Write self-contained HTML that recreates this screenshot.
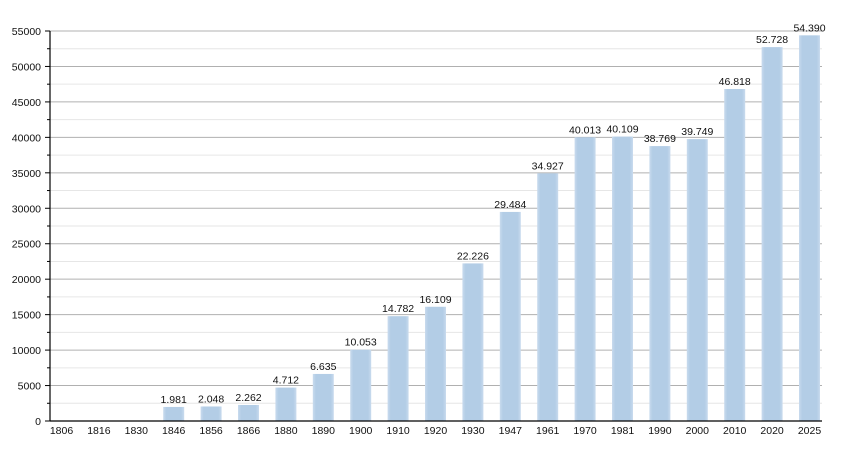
<!DOCTYPE html>
<html><head><style>
body{margin:0;background:#fff;}
svg text{font-family:"Liberation Sans",Arial,sans-serif;font-size:10.5px;fill:#111;}
</style></head><body>
<svg width="850" height="450" xmlns="http://www.w3.org/2000/svg">
<defs>
<linearGradient id="g" x1="0" x2="1" y1="0" y2="0">
<stop offset="0" stop-color="#c9dbee"/><stop offset="0.15" stop-color="#b3cde6"/><stop offset="0.85" stop-color="#b3cde6"/><stop offset="1" stop-color="#c9dbee"/>
</linearGradient>
</defs>
<g stroke-width="1">
<line x1="50" x2="822" y1="403.27" y2="403.27" stroke="#e6e6e6"/>
<line x1="50" x2="822" y1="385.55" y2="385.55" stroke="#b0b0b0"/>
<line x1="50" x2="822" y1="367.82" y2="367.82" stroke="#e6e6e6"/>
<line x1="50" x2="822" y1="350.09" y2="350.09" stroke="#b0b0b0"/>
<line x1="50" x2="822" y1="332.36" y2="332.36" stroke="#e6e6e6"/>
<line x1="50" x2="822" y1="314.64" y2="314.64" stroke="#b0b0b0"/>
<line x1="50" x2="822" y1="296.91" y2="296.91" stroke="#e6e6e6"/>
<line x1="50" x2="822" y1="279.18" y2="279.18" stroke="#b0b0b0"/>
<line x1="50" x2="822" y1="261.45" y2="261.45" stroke="#e6e6e6"/>
<line x1="50" x2="822" y1="243.73" y2="243.73" stroke="#b0b0b0"/>
<line x1="50" x2="822" y1="226" y2="226" stroke="#e6e6e6"/>
<line x1="50" x2="822" y1="208.27" y2="208.27" stroke="#b0b0b0"/>
<line x1="50" x2="822" y1="190.55" y2="190.55" stroke="#e6e6e6"/>
<line x1="50" x2="822" y1="172.82" y2="172.82" stroke="#b0b0b0"/>
<line x1="50" x2="822" y1="155.09" y2="155.09" stroke="#e6e6e6"/>
<line x1="50" x2="822" y1="137.36" y2="137.36" stroke="#b0b0b0"/>
<line x1="50" x2="822" y1="119.64" y2="119.64" stroke="#e6e6e6"/>
<line x1="50" x2="822" y1="101.91" y2="101.91" stroke="#b0b0b0"/>
<line x1="50" x2="822" y1="84.18" y2="84.18" stroke="#e6e6e6"/>
<line x1="50" x2="822" y1="66.45" y2="66.45" stroke="#b0b0b0"/>
<line x1="50" x2="822" y1="48.73" y2="48.73" stroke="#e6e6e6"/>
<line x1="50" x2="822" y1="31" y2="31" stroke="#b0b0b0"/>
</g>
<g fill="url(#g)">
<rect x="163.2" y="406.95" width="21" height="14.05"/>
<rect x="200.6" y="406.48" width="21" height="14.52"/>
<rect x="238" y="404.96" width="21" height="16.04"/>
<rect x="275.4" y="387.59" width="21" height="33.41"/>
<rect x="312.8" y="373.95" width="21" height="47.05"/>
<rect x="350.2" y="349.72" width="21" height="71.28"/>
<rect x="387.6" y="316.18" width="21" height="104.82"/>
<rect x="425" y="306.77" width="21" height="114.23"/>
<rect x="462.4" y="263.4" width="21" height="157.6"/>
<rect x="499.8" y="211.93" width="21" height="209.07"/>
<rect x="537.2" y="173.34" width="21" height="247.66"/>
<rect x="574.6" y="137.27" width="21" height="283.73"/>
<rect x="612" y="136.59" width="21" height="284.41"/>
<rect x="649.4" y="146.09" width="21" height="274.91"/>
<rect x="686.8" y="139.14" width="21" height="281.86"/>
<rect x="724.2" y="89.02" width="21" height="331.98"/>
<rect x="761.6" y="47.11" width="21" height="373.89"/>
<rect x="799" y="35.33" width="21" height="385.67"/>
</g>
<g text-anchor="middle">
<text x="173.7" y="403">1.981</text>
<text x="211.1" y="402.5">2.048</text>
<text x="248.5" y="401">2.262</text>
<text x="285.9" y="383.6">4.712</text>
<text x="323.3" y="370">6.635</text>
<text x="360.7" y="345.7">10.053</text>
<text x="398.1" y="312.2">14.782</text>
<text x="435.5" y="302.8">16.109</text>
<text x="472.9" y="259.4">22.226</text>
<text x="510.3" y="207.9">29.484</text>
<text x="547.7" y="169.3">34.927</text>
<text x="585.1" y="133.3">40.013</text>
<text x="622.5" y="132.6">40.109</text>
<text x="659.9" y="142.1">38.769</text>
<text x="697.3" y="135.1">39.749</text>
<text x="734.7" y="85">46.818</text>
<text x="772.1" y="43.1">52.728</text>
<text x="809.5" y="31.3">54.390</text>
</g>
<g text-anchor="middle">
<text x="61.5" y="434">1806</text>
<text x="98.9" y="434">1816</text>
<text x="136.3" y="434">1830</text>
<text x="173.7" y="434">1846</text>
<text x="211.1" y="434">1856</text>
<text x="248.5" y="434">1866</text>
<text x="285.9" y="434">1880</text>
<text x="323.3" y="434">1890</text>
<text x="360.7" y="434">1900</text>
<text x="398.1" y="434">1910</text>
<text x="435.5" y="434">1920</text>
<text x="472.9" y="434">1930</text>
<text x="510.3" y="434">1947</text>
<text x="547.7" y="434">1961</text>
<text x="585.1" y="434">1970</text>
<text x="622.5" y="434">1981</text>
<text x="659.9" y="434">1990</text>
<text x="697.3" y="434">2000</text>
<text x="734.7" y="434">2010</text>
<text x="772.1" y="434">2020</text>
<text x="809.5" y="434">2025</text>
</g>
<g stroke="#000" stroke-width="1">
<line x1="50" x2="50" y1="31" y2="421" stroke-width="1.2"/>
<line x1="50" x2="822" y1="421" y2="421" stroke-width="1.2"/>
<line x1="45" x2="50" y1="421" y2="421"/>
<line x1="47" x2="50" y1="403.27" y2="403.27"/>
<line x1="45" x2="50" y1="385.55" y2="385.55"/>
<line x1="47" x2="50" y1="367.82" y2="367.82"/>
<line x1="45" x2="50" y1="350.09" y2="350.09"/>
<line x1="47" x2="50" y1="332.36" y2="332.36"/>
<line x1="45" x2="50" y1="314.64" y2="314.64"/>
<line x1="47" x2="50" y1="296.91" y2="296.91"/>
<line x1="45" x2="50" y1="279.18" y2="279.18"/>
<line x1="47" x2="50" y1="261.45" y2="261.45"/>
<line x1="45" x2="50" y1="243.73" y2="243.73"/>
<line x1="47" x2="50" y1="226" y2="226"/>
<line x1="45" x2="50" y1="208.27" y2="208.27"/>
<line x1="47" x2="50" y1="190.55" y2="190.55"/>
<line x1="45" x2="50" y1="172.82" y2="172.82"/>
<line x1="47" x2="50" y1="155.09" y2="155.09"/>
<line x1="45" x2="50" y1="137.36" y2="137.36"/>
<line x1="47" x2="50" y1="119.64" y2="119.64"/>
<line x1="45" x2="50" y1="101.91" y2="101.91"/>
<line x1="47" x2="50" y1="84.18" y2="84.18"/>
<line x1="45" x2="50" y1="66.45" y2="66.45"/>
<line x1="47" x2="50" y1="48.73" y2="48.73"/>
<line x1="45" x2="50" y1="31" y2="31"/>
</g>
<g text-anchor="end">
<text x="41" y="425">0</text>
<text x="41" y="389.5">5000</text>
<text x="41" y="354">10000</text>
<text x="41" y="318.6">15000</text>
<text x="41" y="283.2">20000</text>
<text x="41" y="247.7">25000</text>
<text x="41" y="212.3">30000</text>
<text x="41" y="176.8">35000</text>
<text x="41" y="141.4">40000</text>
<text x="41" y="105.9">45000</text>
<text x="41" y="70.5">50000</text>
<text x="41" y="35">55000</text>
</g>
</svg>
</body></html>
